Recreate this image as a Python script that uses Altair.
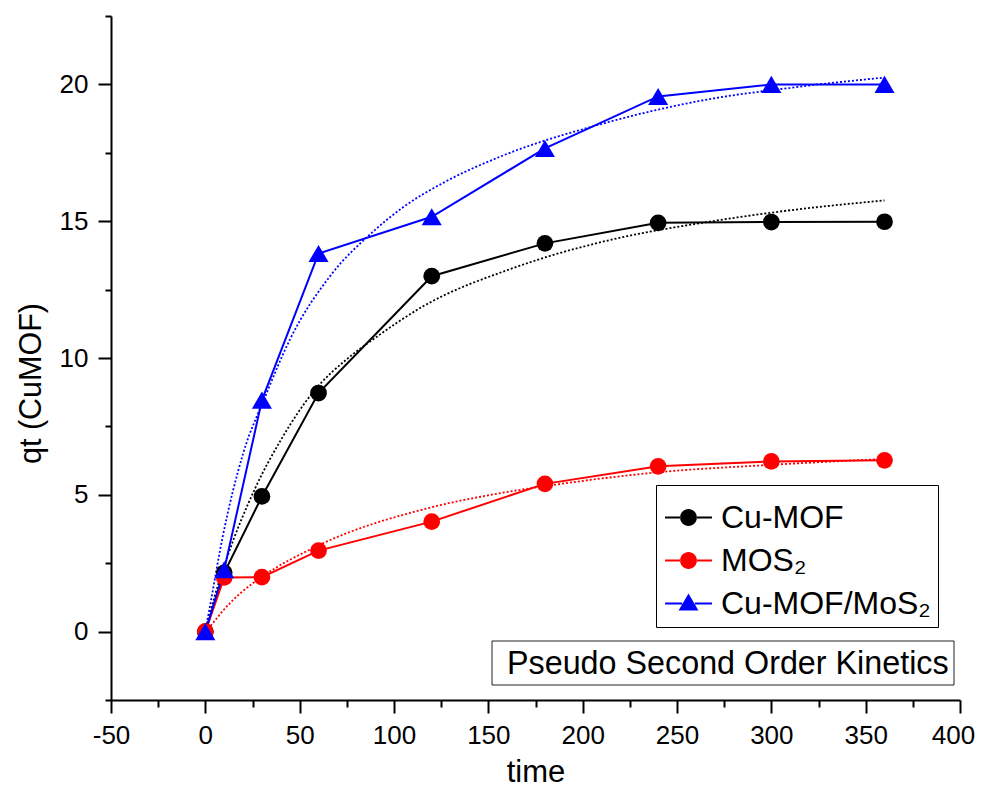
import altair as alt
import pandas as pd

FONT = "Liberation Sans"

series = ["Cu-MOF", "MOS\u2082", "Cu-MOF/MoS\u2082"]
colors = ["#000000", "#FF0000", "#0000FF"]

# measured data
time = [0, 10, 30, 60, 120, 180, 240, 300, 360]
cu_mof = [0, 2.15, 4.94, 8.72, 12.99, 14.19, 14.94, 14.97, 14.98]
mos2 = [0, 1.98, 1.99, 2.96, 4.02, 5.40, 6.04, 6.22, 6.26]
composite = [0, 2.26, 8.46, 13.82, 15.16, 17.66, 19.56, 20.0, 20.0]

# dotted fit curves
fit_cu_t = [0, 5, 11.5, 26.5, 40, 56.5, 76.8, 88.3, 115.7, 161.6, 177.5, 220, 262.3, 306.5, 360]
fit_cu_q = [0, 1.3, 2.7, 5.25, 7.0, 8.7, 10.06, 10.65, 11.9, 13.25, 13.62, 14.4, 14.93, 15.37, 15.76]
fit_mos_t = [0, 2.65, 9.7, 18.5, 30, 60, 119.2, 156.3, 185.5, 239.4, 301.2, 360]
fit_mos_q = [0, 0.2, 0.79, 1.40, 2.0, 3.15, 4.53, 5.06, 5.37, 5.82, 6.10, 6.31]
fit_comp_t = [0, 2.65, 9, 20, 31.8, 45, 66.2, 88.3, 105, 126.3, 156.3, 209.3, 262.3, 315.3, 360]
fit_comp_q = [0, 1.0, 3.4, 6.5, 8.6, 10.7, 13.0, 14.58, 15.52, 16.41, 17.36, 18.54, 19.4, 19.92, 20.25]

x_ticks = [-50, -25, 0, 25, 50, 75, 100, 125, 150, 175, 200, 225, 250, 275, 300, 325, 350, 375, 400]
y_ticks = [-2.5, 0, 2.5, 5, 7.5, 10, 12.5, 15, 17.5, 20, 22.5]
annotation = "Pseudo Second Order Kinetics"

rows = []
for name, vals in zip(series, [cu_mof, mos2, composite]):
    for t, q in zip(time, vals):
        rows.append({"series": name, "t": t, "q": q})
data = pd.DataFrame(rows)

frows = []
for name, ts, qs in zip(series, [fit_cu_t, fit_mos_t, fit_comp_t], [fit_cu_q, fit_mos_q, fit_comp_q]):
    for t, q in zip(ts, qs):
        frows.append({"series": name, "t": t, "q": q})
fits = pd.DataFrame(frows)

legend_df = pd.DataFrame({"series": series, "t": [None] * 3, "q": [None] * 3})

tri_path = "M0,-1.02L1.2,1.02L-1.2,1.02Z"
# legend glyphs: filled line stubs + marker (unit box scaled by sqrt(size)/2 = 25.5 px)
leg_circle = ("M-0.92,-0.04H-0.32V0.04H-0.92Z M0.32,-0.04H0.92V0.04H0.32Z "
              "M-0.33,0A0.33,0.33,0,1,0,0.33,0A0.33,0.33,0,1,0,-0.33,0Z")
leg_tri = ("M-0.92,-0.04H-0.25V0.04H-0.92Z M0.25,-0.04H0.92V0.04H0.25Z "
           "M0,-0.39L0.39,0.27L-0.39,0.27Z")

xaxis = alt.Axis(
    values=x_ticks,
    labelExpr="datum.value % 50 === 0 ? '' + datum.value : ''",
    tickSize={"condition": {"test": "datum.value % 50 === 0", "value": 13}, "value": 7},
    labelOffset={"condition": {"test": "datum.value === 400", "value": -7}, "value": 0},
    grid=False, domainColor="black", domainWidth=2, tickColor="black", tickWidth=2,
    labelFont=FONT, labelFontSize=26, labelColor="black", labelPadding=30,
    labelBaseline="alphabetic", labelFlush=False, labelOverlap=False, labelBound=False,
    titleFont=FONT, titleFontSize=31, titleFontWeight="normal", titleColor="black",
    titleY=81, titleBaseline="alphabetic",
)
yaxis = alt.Axis(
    values=y_ticks,
    labelExpr="datum.value % 5 === 0 ? '' + datum.value : ''",
    tickSize={"condition": {"test": "datum.value % 5 === 0", "value": 13}, "value": 6},
    grid=False, domainColor="black", domainWidth=2, tickColor="black", tickWidth=2,
    labelFont=FONT, labelFontSize=26, labelColor="black", labelPadding=10,
    labelFlush=False, labelOverlap=False, labelBound=False,
    titleFont=FONT, titleFontSize=30.5, titleFontWeight="normal", titleColor="black",
    titleAngle=270, titleAlign="center", titleBaseline="alphabetic", titleX=-71, titleY=367,
)

X = alt.X("t:Q", scale=alt.Scale(domain=[-50, 400], nice=False, zero=False), axis=xaxis, title="time")
Y = alt.Y("q:Q", scale=alt.Scale(domain=[-2.5, 22.5], nice=False, zero=False), axis=yaxis, title="qt (CuMOF)")


def color_enc(legend=None):
    return alt.Color("series:N", scale=alt.Scale(domain=series, range=colors), legend=legend)


fit_layer = alt.Chart(fits).mark_line(strokeWidth=1.8, strokeDash=[2, 2], interpolate="monotone").encode(
    x=X, y=Y, color=color_enc(), order="t:Q")
line_layer = alt.Chart(data).mark_line(strokeWidth=2).encode(x=X, y=Y, color=color_enc(), order="t:Q")
point_layer = alt.Chart(data).mark_point(filled=True, opacity=1, size=280).encode(
    x=X, y=Y, color=color_enc(),
    shape=alt.Shape("series:N", scale=alt.Scale(domain=series, range=["circle", "circle", tri_path]), legend=None),
)

leg = alt.Legend(
    title=None, orient="none", legendX=545, legendY=469,
    labelFont=FONT, labelFontSize=32, labelColor="black", labelOffset=7, labelLimit=0,
    strokeColor="black", fillColor="white", padding=7, rowPadding=1,
    symbolSize=2601, symbolStrokeWidth=0, symbolOpacity=1,
)
legend_layer = alt.Chart(legend_df).mark_point(filled=True, opacity=1).encode(
    x=X, y=Y,
    color=color_enc(leg),
    shape=alt.Shape("series:N", scale=alt.Scale(domain=series, range=[leg_circle, leg_circle, leg_tri]), legend=leg),
)

ann_df = pd.DataFrame({"label": [annotation]})
ann_box = alt.Chart(ann_df).mark_rect(fill="white", stroke="#222222", strokeWidth=1).encode(
    x=alt.value(381), x2=alt.value(843), y=alt.value(625), y2=alt.value(669))
ann_text = alt.Chart(ann_df).mark_text(align="left", baseline="alphabetic", font=FONT, fontSize=32.3, color="black").encode(
    x=alt.value(396), y=alt.value(658), text="label:N")

chart = alt.layer(fit_layer, line_layer, point_layer, legend_layer, ann_box, ann_text).resolve_scale(
    shape="independent", color="independent"
).properties(
    width=849, height=684,
    padding={"left": 103, "top": 8, "right": 16, "bottom": 88},
    autosize=alt.AutoSizeParams(type="none"),
    background="white",
).configure_view(stroke=None)

chart.save("out.html", embed_options={"renderer": "svg", "actions": False})
